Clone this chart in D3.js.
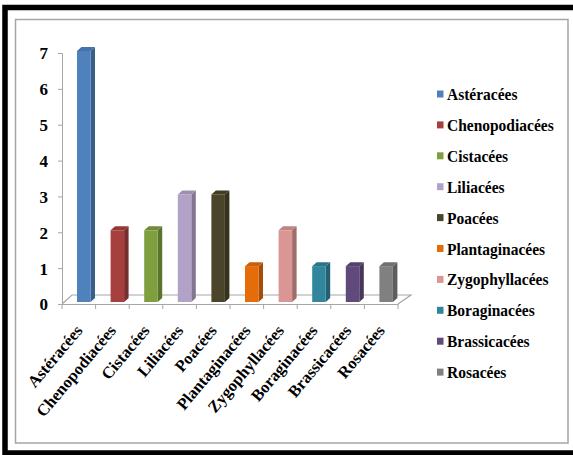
<!DOCTYPE html>
<html><head><meta charset="utf-8">
<script src="https://cdn.jsdelivr.net/npm/d3@7"></script>
<style>body{margin:0;background:#fff}svg{display:block}</style>
</head><body>
<svg id="c" width="573" height="455"></svg>
<script>
const categories = ["Astéracées","Chenopodiacées","Cistacées","Liliacées","Poacées","Plantaginacées","Zygophyllacées","Boraginacées","Brassicacées","Rosacées"];
const values = [7,2,2,3,3,1,2,1,1,1];
const colors = ["#4F81BD","#A5403E","#7F9F3E","#B3A2C7","#4A452A","#E46C0A","#DA9694","#31859C","#604A7B","#808080"];
const yTicks = [0,1,2,3,4,5,6,7];

const svg = d3.select("#c");
const font = "'Liberation Serif','Times New Roman',serif";

// frames
svg.append("rect").attr("x",5).attr("y",7.5).attr("width",620).attr("height",445.5)
  .attr("fill","none").attr("stroke","#000").attr("stroke-width",5.5);
svg.append("rect").attr("x",15.5).attr("y",19.5).attr("width",552.5).attr("height",423.5)
  .attr("fill","#fff").attr("stroke","#a6a6a6").attr("stroke-width",1.5);

const x = d3.scaleBand().domain(categories).range([62,398]).padding(0);
const y = d3.scaleLinear().domain([0,7]).range([304,53]);
const dx = 10, dy = -9;   // floor depth
const bx = 4.5, by = -4;  // bar depth

// floor
const x0 = 62, x1 = 398, yf = y(0);
svg.append("path")
  .attr("d",`M${x0},${yf}L${x0+dx},${yf+dy}L${x1+dx+3},${yf+dy}L${x1},${yf}`)
  .attr("fill","none").attr("stroke","#a6a6a6").attr("stroke-width",1.2);

// y axis
const yAxis = d3.axisLeft(y).tickValues(yTicks).tickFormat(d3.format("d")).tickSize(4).tickPadding(10);
const gy = svg.append("g").attr("transform","translate(62,0)").call(yAxis);
gy.select(".domain").attr("stroke","#a6a6a6");
gy.selectAll(".tick line").attr("stroke","#a6a6a6");
gy.selectAll("text").attr("font-family",font).attr("font-weight","bold")
  .attr("font-size","17px").attr("fill","#000").attr("dy","0.35em");

// x axis
const xAxis = d3.axisBottom(x).tickSize(0).tickFormat("");
const gx = svg.append("g").attr("transform",`translate(0,${yf})`).call(xAxis);
gx.select(".domain").attr("stroke","#a6a6a6");
gx.selectAll(".xt").data(d3.range(categories.length+1)).enter().append("line")
  .attr("x1",i=>62+i*x.bandwidth()).attr("x2",i=>62+i*x.bandwidth())
  .attr("y1",0).attr("y2",5).attr("stroke","#a6a6a6");

// x labels
svg.append("g").selectAll("text").data(categories).enter().append("text")
  .attr("transform",d=>`translate(${x(d)+x.bandwidth()/2+4.5},${yf+27}) rotate(-50)`)
  .attr("text-anchor","end").attr("font-family",font).attr("font-weight","bold")
  .attr("font-size","16.5px").attr("fill","#000").text(d=>d);

// bars
const bw = 13.5;
const bars = svg.append("g").selectAll("g").data(categories).enter().append("g");
bars.each(function(d,i){
  const g = d3.select(this);
  const c = d3.color(colors[i]);
  const left = x(d)+15, right = left+bw;
  const bot = yf-2, top = y(values[i])-2;
  g.append("path").attr("d",`M${right},${bot}L${right+bx},${bot+by}L${right+bx},${top+by}L${right},${top}Z`)
    .attr("fill",c.darker(0.9));
  g.append("path").attr("d",`M${left},${top}L${left+bx},${top+by}L${right+bx},${top+by}L${right},${top}Z`)
    .attr("fill",c.darker(0.35));
  g.append("rect").attr("x",left).attr("y",top).attr("width",bw).attr("height",bot-top)
    .attr("fill",c);
});

// legend
const lg = svg.append("g").selectAll("g").data(categories).enter().append("g")
  .attr("transform",(d,i)=>`translate(437,${94+i*30.9})`);
lg.append("rect").attr("x",0).attr("y",-3.5).attr("width",6.5).attr("height",7)
  .attr("fill",(d,i)=>colors[i]);
lg.append("text").attr("x",10).attr("y",0).attr("dy","0.35em")
  .attr("transform","scale(1,1.12)")
  .attr("font-family",font).attr("font-weight","bold")
  .attr("font-size","15.5px").attr("fill","#000").text(d=>d);
</script>
</body></html>
